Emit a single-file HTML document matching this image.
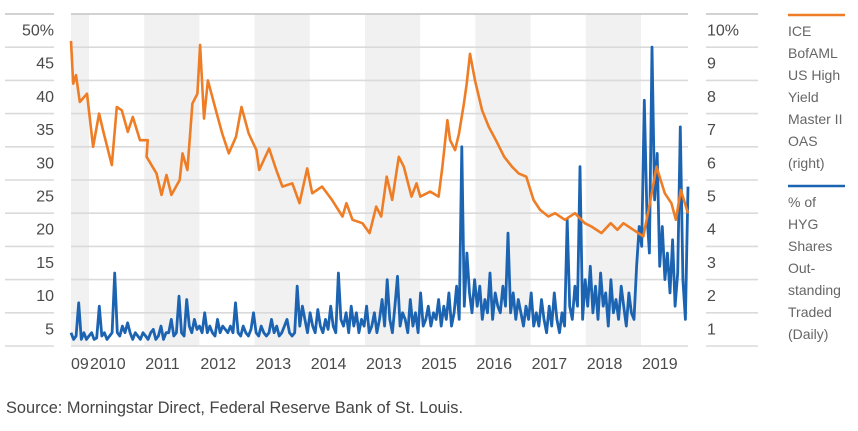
<!DOCTYPE html>
<html><head><meta charset="utf-8">
<style>
body{margin:0;background:#fff;}
svg{display:block;font-family:"Liberation Sans Narrow","Liberation Sans",sans-serif;}
.ax{fill:#4a4a4a;font-size:16px;}
.lg{fill:#666;font-size:14px;}
</style></head>
<body>
<svg id="chart" width="858" height="431" viewBox="0 0 858 431">
<g id="bands"></g>
<g id="grid"></g>
<g id="yl"></g>
<g id="yr"></g>
<g id="xl"></g>
<path id="blue" fill="none" stroke="#1c64b2" stroke-width="2.8" stroke-linejoin="round"/>
<path id="orange" fill="none" stroke="#ee7d26" stroke-width="2.6" stroke-linejoin="round"/>
<g>
<line x1="788" y1="15" x2="845" y2="15" stroke="#ee7d26" stroke-width="2.5"/>
<text class="lg" x="788">
<tspan x="788" y="36">ICE</tspan><tspan x="788" y="58">BofAML</tspan><tspan x="788" y="80">US High</tspan><tspan x="788" y="102">Yield</tspan><tspan x="788" y="124">Master II</tspan><tspan x="788" y="146">OAS</tspan><tspan x="788" y="168">(right)</tspan></text>
<line x1="788" y1="186" x2="845" y2="186" stroke="#1c64b2" stroke-width="2.5"/>
<text class="lg">
<tspan x="788" y="207">% of</tspan><tspan x="788" y="229">HYG</tspan><tspan x="788" y="251">Shares</tspan><tspan x="788" y="273">Out-</tspan><tspan x="788" y="295">standing</tspan><tspan x="788" y="317">Traded</tspan><tspan x="788" y="339">(Daily)</tspan></text>
</g>
<text x="6" y="413" fill="#444" font-size="17" textLength="457" lengthAdjust="spacingAndGlyphs">Source: Morningstar Direct, Federal Reserve Bank of St. Louis.</text>
</svg>
<script>
const leftTicks=["5","10","15","20","25","30","35","40","45","50%"];
const rightTicks=["1","2","3","4","5","6","7","8","9","10%"];
const yearLabels=["09","2010","2011","2012","2013","2014","2013","2015","2016","2017","2018","2019"];
const shadedSlots=[0,2,4,6,8,10];
const oasDates=[2009.67,2009.71,2009.76,2009.83,2009.96,2010.07,2010.18,2010.25,2010.41,2010.5,2010.59,2010.7,2010.79,2010.92,2011.06,2011.04,2011.22,2011.31,2011.4,2011.49,2011.64,2011.69,2011.78,2011.87,2011.96,2012.01,2012.08,2012.15,2012.28,2012.41,2012.53,2012.66,2012.76,2012.89,2013.03,2013.08,2013.26,2013.39,2013.5,2013.68,2013.81,2013.95,2014.04,2014.22,2014.4,2014.59,2014.66,2014.77,2014.95,2015.08,2015.2,2015.29,2015.39,2015.49,2015.61,2015.7,2015.84,2015.93,2016.0,2016.18,2016.33,2016.4,2016.49,2016.54,2016.63,2016.7,2016.79,2016.84,2016.9,2016.99,2017.12,2017.24,2017.37,2017.52,2017.66,2017.78,2017.92,2018.05,2018.17,2018.32,2018.44,2018.62,2018.8,2018.98,2019.1,2019.28,2019.45,2019.57,2019.68,2019.86,2020.04,2020.16,2020.28,2020.43,2020.55,2020.63,2020.72,2020.85];
const oasValues=[9.19,7.9,8.16,7.35,7.6,6.0,7.0,6.5,5.45,7.2,7.1,6.45,6.9,6.2,6.2,5.7,5.2,4.55,5.15,4.55,5.0,5.8,5.3,7.3,7.6,9.07,6.85,8.0,7.2,6.4,5.8,6.3,7.2,6.4,5.9,5.3,5.95,5.3,4.8,4.9,4.3,5.35,4.6,4.8,4.4,3.9,4.3,3.8,3.7,3.4,4.2,3.9,5.1,4.4,5.7,5.4,4.5,4.9,4.5,4.65,4.5,5.4,6.8,6.2,5.9,6.4,7.3,7.9,8.8,8.0,7.1,6.6,6.2,5.7,5.4,5.2,5.1,4.4,4.1,3.9,4.0,3.8,4.0,3.7,3.6,3.4,3.7,3.5,3.7,3.5,3.3,4.3,5.4,4.6,4.3,3.8,4.7,4.0,4.5];
const hygValues=[2,1,1.5,6.5,1,2,1,1.5,2,1,1.2,
6,1.5,2,1,1.5,2,11,2,1.5,3,
2,3.5,2,1,2,1.5,1,2,1.5,1,2,2.5,1,1.5,3,1,2,2,4,1.5,
2,7.5,2,1.5,7,3,2,4,2.5,3,2,5,2,3,2,1.5,4,2,3,2.5,
2,3,2,6.5,2,1.5,3,2,1.5,2.5,5,2,1.5,3,2,1.5,2,4,2,3,
1.5,2,3,4,2,1.5,2,9,3,6,4,2,5,3,2,5.5,3,2,4,2.5,
6,3,2,11,4,3,5,2,6,3,5,2,4,3,6,2,3,5,2,4,
7,3,10,4,2,6,10.5,3,5,4,2,7,3,5,2,8,3,4,6,3,
5,4,7,3,6,4,8,3,5,9,4,30,6,14,8,5,10,6,9,4,
7,5,11,4,8,6,5,9,6,17,5,8,4,7,5,3,6,4,8,3,
5,3,7,4,2,6,3,8,4,2,5,3,19,6,4,9,6,27,4,10,
6,12,5,9,4,11,6,8,3,10,5,7,4,9,6,3,8,5,4,12,
18,15,37,20,14,45,22,29,12,18,10,14,8,16,6,11,33,10,4,24];
const hygStart=2009.67, hygEnd=2020.85;

const NS="http://www.w3.org/2000/svg";
const X0=71,X1=688,YB=346,YT=14;
const yearW=55.2, slot0=89;
const xTime=t=>X0+(t-2009.67)*(X1-X0)/(2020.85-2009.67);
const yLeft=v=>YB-v*(YB-YT)/50;
const yRight=v=>YB-v*(YB-YT)/10;
function mk(tag,parent,attrs){const e=document.createElementNS(NS,tag);for(const k in attrs)e.setAttribute(k,attrs[k]);document.getElementById(parent).appendChild(e);return e;}

shadedSlots.forEach(s=>{
  const a=Math.max(X0,slot0+(s-1)*yearW), b=slot0+s*yearW;
  const r=mk('rect','bands',{x:a,y:YT,width:Math.min(b,X1)-a,height:YB-YT,fill:'#f1f1f1'});
  
  
});
for(let i=0;i<=10;i++){
  const y=yLeft(i*5);
  const c=i==10?'#c4c4c4':'#dadada';
  [[5,54],[X0,X1],[706,758]].forEach(([a,b])=>{
    const l=mk('line','grid',{x1:a,x2:b,y1:y,y2:y,stroke:c,'stroke-width':1.6});
    
    
  });
}
leftTicks.forEach((t,i)=>{
  const e=mk('text','yl',{x:54,y:yLeft((i+1)*5)+21.5,'text-anchor':'end',class:'ax'});
  e.textContent=t;
  
  
});
rightTicks.forEach((t,i)=>{
  const e=mk('text','yr',{x:707,y:yRight(i+1)+21.5,class:'ax'});
  e.textContent=t;
  
  
});
yearLabels.forEach((t,i)=>{
  const x=i==0?X0:slot0+(i-1)*yearW+1;
  const e=mk('text','xl',{x:x,y:369,class:'ax'});
  e.textContent=t;
  
  
});
let d='';
hygValues.forEach((v,i)=>{const t=hygStart+i*(hygEnd-hygStart)/(hygValues.length-1);d+=(i?'L':'M')+xTime(t).toFixed(1)+' '+yLeft(v).toFixed(1);});
document.getElementById('blue').setAttribute('d',d);
d='';
oasValues.forEach((v,i)=>{d+=(i?'L':'M')+xTime(oasDates[i]).toFixed(1)+' '+yRight(v).toFixed(1);});
document.getElementById('orange').setAttribute('d',d);
</script>
</body></html>
